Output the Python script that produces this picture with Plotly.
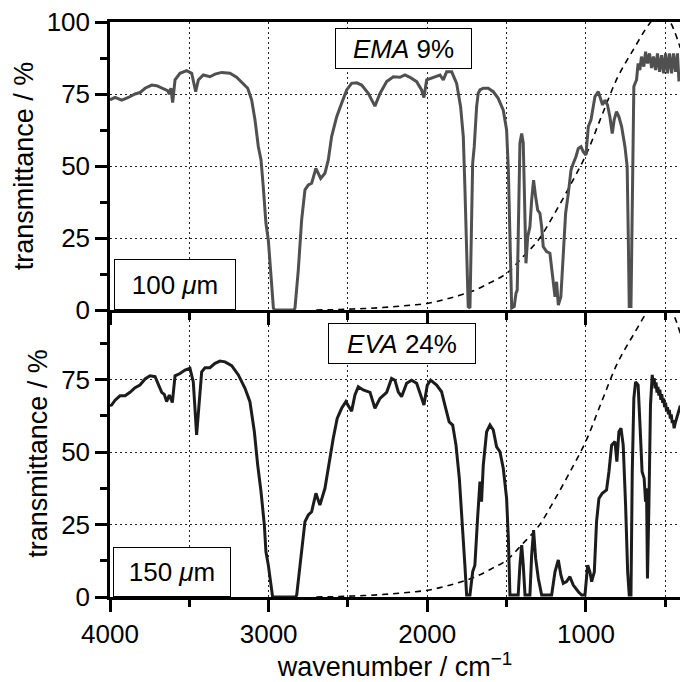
import plotly.graph_objects as go

# ---------------- data ----------------
ema_wn = [4000, 3968, 3926, 3884, 3842, 3811, 3779, 3737, 3706, 3664, 3637, 3626, 3616, 3605, 3590,
          3559, 3517, 3485, 3475, 3460, 3443, 3412, 3370, 3338, 3296, 3244, 3202, 3170, 3132, 3107,
          3086, 3065, 3048, 3034, 3017, 3002, 2987, 2970, 2962, 2840, 2834, 2813, 2792, 2771, 2750,
          2729, 2702, 2672, 2645, 2624, 2603, 2571, 2540, 2508, 2477, 2445, 2414, 2372, 2330, 2298,
          2256, 2214, 2172, 2141, 2109, 2067, 2036, 2021, 2004, 1962, 1920, 1899, 1878, 1846, 1815,
          1790, 1773, 1763, 1752, 1742, 1731, 1725, 1714, 1704, 1689, 1679, 1668, 1647, 1616, 1584,
          1553, 1521, 1500, 1489, 1479, 1468, 1452, 1441, 1433, 1427, 1416, 1405, 1395, 1384, 1378,
          1367, 1353, 1342, 1330, 1317, 1304, 1290, 1279, 1269, 1248, 1227, 1212, 1195, 1185, 1174,
          1158, 1143, 1128, 1111, 1094, 1080, 1063, 1048, 1031, 1017, 1000, 985, 968, 954, 943,
          922, 905, 895, 880, 864, 849, 834, 822, 807, 792, 775, 754, 740, 733, 727,
          716, 708, 698, 681, 671, 660, 650, 635, 624, 612, 599, 586, 574, 561, 549,
          536, 523, 511, 498, 486, 473, 460, 448, 435, 423, 414, 405]
ema_t = [73, 73.8, 72.9, 73.8, 75, 75.5, 77, 78.1, 77.9, 76.7, 76.2, 75, 77, 72, 79.9,
         82.2, 83.1, 82.2, 79.9, 75.8, 79.9, 81.6, 81, 81.9, 82.5, 82.2, 80.8, 78.9, 77, 72.9,
         66, 56.7, 52.1, 42.8, 30.1, 24.3, 12.7, 0.7, 0, 0, 0.7, 13.9, 31.3, 41.7, 43.4,
         44, 49.2, 45.7, 47.5, 52.1, 60.2, 67.1, 71.8, 76.4, 78.7, 78.9, 78.1, 75.2, 70.8, 75.2,
         79.3, 81, 80.8, 81.6, 80.8, 79.3, 76.4, 73.8, 79.9, 80.8, 81.6, 79.9, 82.7, 82.7, 78.7,
         70.6, 60.2, 42.8, 19.8, 1.2, 0.7, 19.8, 50.9, 56.7, 70.6, 75.2, 76.4, 77, 77, 75.8,
         73.5, 69.4, 62.5, 48.6, 19.8, 0.7, 1.2, 5.8, 6.9, 31.3, 57.9, 61.3, 57.9, 31.3, 16.2,
         25.5, 28.9, 38.2, 45.1, 39.3, 34.7, 33.6, 28.9, 22, 20.3, 19.7, 12.7, 4.6, 9.8, 1.7,
         4.6, 19.7, 33.6, 40.5, 48.6, 50.9, 53.2, 56.1, 56.7, 55, 53.8, 63.7, 66, 70.6, 74.1,
         75.8, 72.9, 71.2, 72.9, 71.2, 67.1, 61.3, 66, 68.9, 67.1, 63.7, 56.7, 49.8, 25.5, 1.2,
         1.2, 42.8, 77.6, 79.9, 85.6, 83.3, 88, 84.5, 89.7, 85.6, 89.1, 84, 88, 83.3, 89.1,
         82.7, 88.5, 82.2, 89.1, 82.2, 89.1, 82.2, 89.1, 82.7, 89.1, 79.9, 80]

eva_wn = [4000, 3990, 3968, 3937, 3905, 3874, 3842, 3811, 3779, 3748, 3716, 3695, 3674, 3658, 3643,
          3626, 3607, 3590, 3559, 3527, 3496, 3475, 3460, 3454, 3439, 3422, 3401, 3370, 3338, 3307,
          3275, 3233, 3191, 3149, 3118, 3090, 3069, 3048, 3027, 3017, 3002, 2981, 2975, 2830, 2823,
          2802, 2771, 2750, 2729, 2702, 2677, 2645, 2618, 2593, 2568, 2540, 2513, 2477, 2456, 2435,
          2404, 2361, 2330, 2298, 2256, 2225, 2204, 2183, 2162, 2130, 2099, 2067, 2042, 2021, 2000,
          1979, 1941, 1910, 1889, 1862, 1840, 1819, 1798, 1777, 1763, 1752, 1731, 1714, 1700, 1683,
          1668, 1658, 1647, 1626, 1605, 1584, 1563, 1542, 1521, 1500, 1489, 1479, 1427, 1416, 1405,
          1395, 1384, 1353, 1342, 1330, 1317, 1300, 1279, 1216, 1195, 1174, 1158, 1143, 1122, 1101,
          1080, 1048, 1027, 1006, 989, 975, 964, 947, 933, 918, 897, 870, 855, 838, 817,
          805, 792, 779, 765, 750, 737, 727, 716, 708, 698, 687, 671, 660, 646, 633,
          624, 618, 612, 603, 593, 582, 576, 570, 564, 558, 552, 546, 540, 534, 528,
          522, 516, 510, 504, 498, 492, 486, 480, 474, 468, 462, 456, 450, 444, 437,
          429, 421, 414, 405]
eva_t = [66, 66.2, 67.9, 69.4, 69.4, 70.6, 72.2, 73.1, 75.2, 76.3, 76, 73.1, 70.6, 69.9, 67.4,
         69.7, 67.1, 76.3, 77.1, 78.3, 78.9, 74.2, 61.6, 55.9, 66.2, 77.7, 79.1, 79.1, 80.6, 81.4,
         81.1, 79.8, 76.6, 72, 67.4, 57, 45.5, 36.3, 24.8, 15.6, 11, 0.7, 0, 0, 0.7,
         11, 26, 28.3, 29.4, 35.8, 31.7, 37.5, 46.7, 54.7, 61.6, 65.1, 67.4, 64.1, 69.7, 72.5,
         71.4, 70.6, 65.1, 68.5, 70.6, 75.4, 74.8, 70.8, 69.1, 73.7, 74.8, 73.7, 69.7, 66.2, 73.1,
         74.8, 73.1, 70.8, 66.2, 60.4, 59.3, 52.4, 40.9, 24.8, 11, 0.7, 0.7, 8.7, 11, 27.1,
         39.8, 32.9, 45.5, 57, 59.3, 57.6, 51.8, 50.1, 44.4, 34, 20.2, 0.7, 0.7, 11, 17.9,
         11, 0.7, 0.7, 14.5, 23.1, 13.3, 6.4, 0.7, 0.7, 8.7, 12.8, 7.6, 4.7, 5.3, 7,
         4.1, 1.8, 0.7, 0.7, 11, 8.7, 5.3, 8.7, 26, 34, 35.8, 36.9, 43.2, 52.4, 53.6,
         46.7, 57, 58.2, 52.4, 31.7, 8.7, 0.7, 0.7, 43.2, 68.5, 74.2, 73.1, 60.4, 43.2, 40.9,
         32.9, 37.5, 6.4, 31.7, 66.2, 76.6, 73.5, 75.5, 72, 74, 70.5, 72.5, 69.5, 71.5, 68,
         70, 67, 68.5, 65.5, 67, 64, 65.5, 63, 64.5, 61.5, 63, 60, 61, 58.2, 60,
         61.6, 63.5, 65, 66]

ref_wn = [2700, 2600, 2500, 2400, 2300, 2200, 2100, 2000, 1900, 1800, 1700, 1600, 1500, 1400,
          1300, 1200, 1100, 1000, 900, 800, 700, 600, 535, 470, 440, 405]
ref_t = [0, 0.1, 0.3, 0.5, 0.8, 1.2, 1.7, 2.3, 3.5, 5.0, 6.9, 9.6, 12.7, 18.3,
         24.3, 33.3, 43.2, 53.8, 67.5, 80.8, 90.5, 99.4, 103, 100, 96.5, 91]

y_ticks = [0, 25, 50, 75, 100]
x_ticks = [4000, 3000, 2000, 1000]
labels = {"top": "<i>EMA</i> 9%", "bottom": "<i>EVA</i> 24%",
          "top_thk": "100 <i>μ</i>m", "bottom_thk": "150 <i>μ</i>m"}

# ---------------- figure ----------------
FONT = "Liberation Sans, Arial, sans-serif"
W, H = 680, 682
ML, MR, MT, MB = 110, 0, 22, 85
PH = H - MT - MB  # 575
split = 287 / PH
TICK_FS = 26
TITLE_FS = 27

fig = go.Figure()
dash_style = dict(color="black", width=1.6, dash="6px,5px")
fig.add_trace(go.Scatter(x=ref_wn, y=ref_t, mode="lines", line=dict(shape="spline", **dash_style),
                         xaxis="x2", yaxis="y2", showlegend=False, hoverinfo="skip"))
fig.add_trace(go.Scatter(x=ema_wn, y=ema_t, mode="lines", line=dict(color="#505050", width=3),
                         xaxis="x2", yaxis="y2", showlegend=False))
fig.add_trace(go.Scatter(x=ref_wn, y=ref_t, mode="lines", line=dict(shape="spline", **dash_style),
                         xaxis="x", yaxis="y", showlegend=False, hoverinfo="skip"))
fig.add_trace(go.Scatter(x=eva_wn, y=eva_t, mode="lines", line=dict(color="#1c1c1c", width=3),
                         xaxis="x", yaxis="y", showlegend=False))

grid = dict(showgrid=True, gridcolor="#222", gridwidth=1, griddash="2px,3px")
axline = dict(showline=True, linecolor="black", linewidth=2.5, zeroline=False,
              ticks="outside", ticklen=12, tickwidth=2.5, tickcolor="black",
              tickfont=dict(family=FONT, size=TICK_FS, color="black"))

xcommon = dict(range=[4000, 407], tickvals=x_ticks, **axline, **grid,
               minor=dict(dtick=500, tick0=0, ticks="outside", ticklen=7, tickwidth=2.5,
                          tickcolor="black", showgrid=True, gridcolor="#222", gridwidth=1,
                          griddash="2px,3px"))
ycommon = dict(tickvals=y_ticks, **axline, **grid,
               minor=dict(dtick=12.5, tick0=0, ticks="outside", ticklen=7, tickwidth=2.5,
                          tickcolor="black", showgrid=False),
               title=dict(text="transmittance / %",
                          font=dict(family=FONT, size=TITLE_FS, color="black"),
                          standoff=6))

fig.update_layout(
    width=W, height=H,
    margin=dict(l=ML, r=MR, t=MT, b=MB),
    paper_bgcolor="white", plot_bgcolor="white",
    font=dict(family=FONT, size=TICK_FS, color="black"),
    xaxis=dict(anchor="y", domain=[0, 1], **xcommon,
               title=dict(text="wavenumber / cm<sup>−1</sup>",
                          font=dict(family=FONT, size=TITLE_FS, color="black"),
                          standoff=4)),
    xaxis2=dict(anchor="y2", domain=[0, 1], matches="x", showticklabels=False, mirror=True, **xcommon),
    yaxis=dict(anchor="x", domain=[0, split], range=[0, 99], **ycommon),
    yaxis2=dict(anchor="x2", domain=[split, 1], range=[0, 100], **ycommon),
)

def px2paper(px, py):
    return (px - ML) / (W - ML - MR), (H - MB - py) / PH

boxes = [
    ("top", 335, 28, 135, 39),
    ("top_thk", 114, 259, 120, 49),
    ("bottom", 328, 323, 146, 39),
    ("bottom_thk", 113, 547, 116, 48),
]
for key, bx, by, bw, bh in boxes:
    ax_, ay_ = px2paper(bx, by)
    fig.add_annotation(xref="paper", yref="paper", x=ax_, y=ay_, xanchor="left", yanchor="top",
                       text=labels[key], showarrow=False, width=bw, height=bh,
                       font=dict(family=FONT, size=TICK_FS, color="black"),
                       bgcolor="white", bordercolor="black", borderwidth=1, borderpad=0,
                       align="center", valign="middle")

fig.write_html("out.html")
